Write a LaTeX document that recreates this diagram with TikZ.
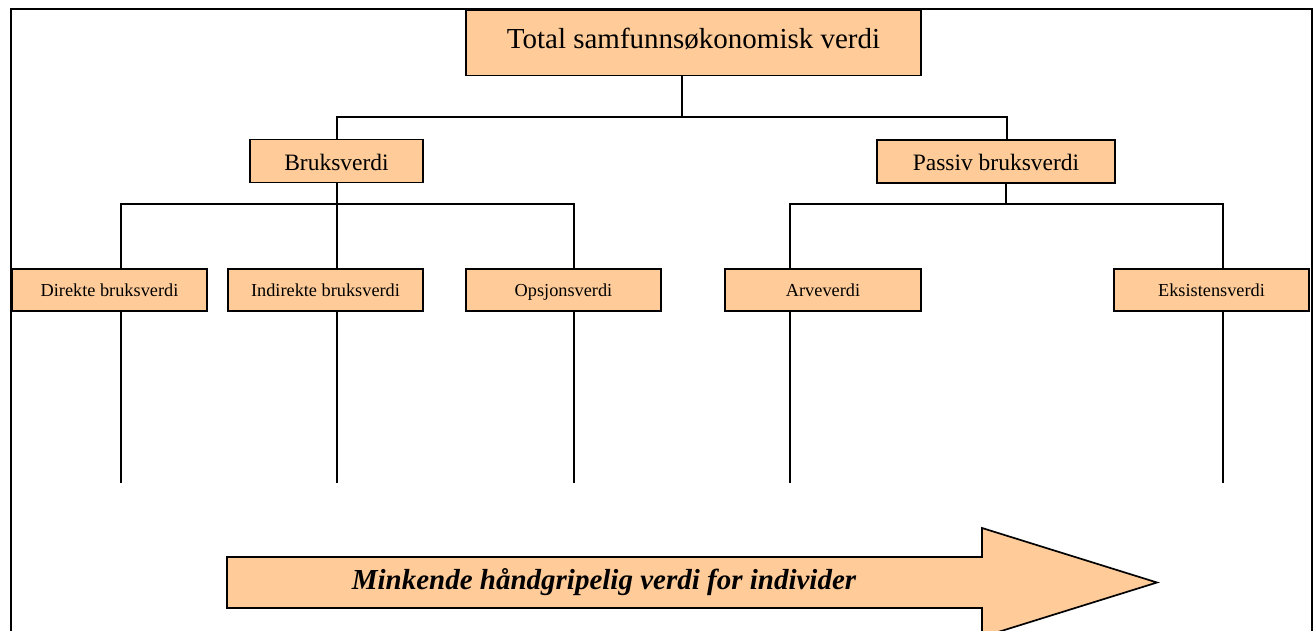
\documentclass[tikz,border=0pt]{standalone}
\usepackage{fontspec}
\setmainfont{Liberation Serif}
\definecolor{peach}{HTML}{FFCC99}
\begin{document}
\begin{tikzpicture}[x=1pt,y=-1pt,
  box/.style={draw=black,fill=peach,line width=1.7pt,inner sep=0pt,anchor=center},
  conn/.style={draw=black,line width=1.4pt}]
\useasboundingbox (0,0) rectangle (1316,631);
\clip (0,0) rectangle (1316,631);
% frame
\draw[line width=2.6pt] (11,660) -- (11,9) -- (1312,9) -- (1312,660);
% boxes
\node[box,minimum width=455pt,minimum height=65pt,text height=20.3pt,text depth=9.7pt,font=\fontsize{29}{34}\selectfont] (top) at (693.5,43) {Total samfunnsøkonomisk verdi};
\node[box,minimum width=173pt,minimum height=43pt,text height=25.2pt,text depth=5.2pt,font=\fontsize{23.5}{28}\selectfont] (bruk) at (336.5,161) {Bruksverdi};
\node[box,minimum width=238pt,minimum height=43pt,text height=23.6pt,text depth=5.2pt,font=\fontsize{23.5}{28}\selectfont] (pass) at (996,161.5) {Passiv bruksverdi};
\tikzset{small/.style={box,minimum width=195pt,minimum height=42pt,text height=16pt,text depth=4pt,font=\fontsize{18.3}{22}\selectfont}}
\node[small] (dir) at (109.5,290) {Direkte bruksverdi};
\node[small] (ind) at (325.5,290) {Indirekte bruksverdi};
\node[small] (ops) at (563.5,290) {Opsjonsverdi};
\node[small,minimum width=196pt] (arv) at (823,290) {Arveverdi};
\node[small] (eks) at (1211.5,290) {Eksistensverdi};
% junctions
\coordinate (j0) at (682,117);
\coordinate (jb) at (337,117);
\coordinate (jp) at (1007,117);
\coordinate (j1) at (337,204);
\coordinate (j2) at (1006,204);
\coordinate (xd) at (121,204);
\coordinate (xi) at (337,204);
\coordinate (xo) at (574,204);
\coordinate (xa) at (790,204);
\coordinate (xe) at (1223,204);
\coordinate (ed) at (121,483);
\coordinate (ei) at (337,483);
\coordinate (eo) at (574,483);
\coordinate (ea) at (790,483);
\coordinate (ee) at (1223,483);
% connectors
\draw[conn] (j0 |- top.south) -- (j0);
\draw[conn] (bruk.north -| jb) -- (jb) -- (jp) -- (jp |- pass.north);
\draw[conn] (j1 |- bruk.south) -- (j1);
\draw[conn] (dir.north -| xd) -- (xd) -- (xo) -- (xo |- ops.north);
\draw[conn] (xi) -- (xi |- ind.north);
\draw[conn] (j2 |- pass.south) -- (j2);
\draw[conn] (arv.north -| xa) -- (xa) -- (xe) -- (xe |- eks.north);
\draw[conn] (dir.south -| ed) -- (ed);
\draw[conn] (ind.south -| ei) -- (ei);
\draw[conn] (ops.south -| eo) -- (eo);
\draw[conn] (arv.south -| ea) -- (ea);
\draw[conn] (eks.south -| ee) -- (ee);
% big arrow
\draw[fill=peach,line width=1.7pt,line join=miter] (227,557) -- (982,557) -- (982,528) -- (1157,582.5) -- (982,637) -- (982,608) -- (227,608) -- cycle;
\node[font=\fontsize{29}{34}\selectfont\bfseries\itshape,anchor=center] (lbl) at (604,582.5) {Minkende håndgripelig verdi for individer};
\end{tikzpicture}
\end{document}
